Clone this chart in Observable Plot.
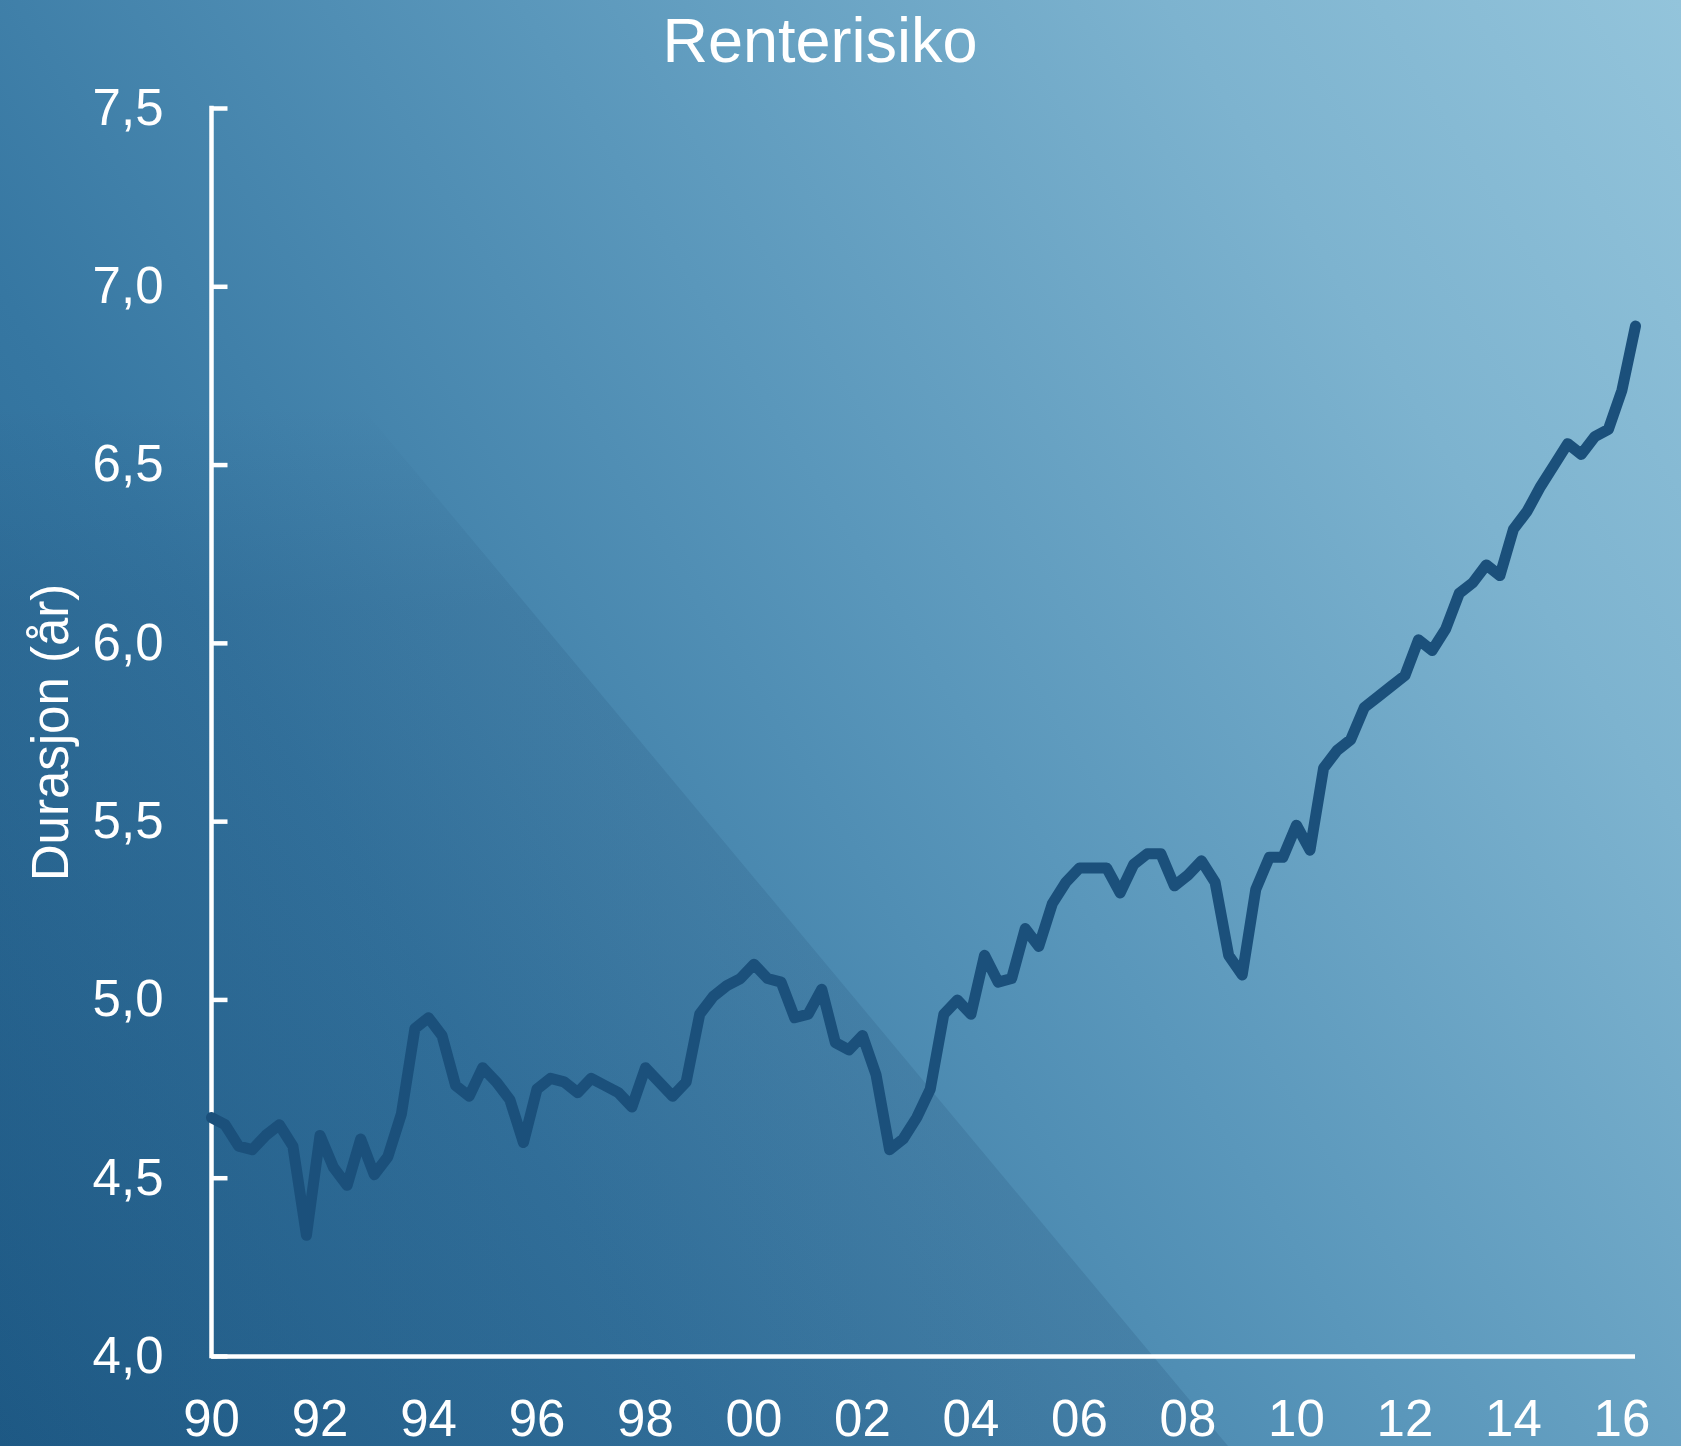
<!DOCTYPE html>
<html>
<head>
<meta charset="utf-8">
<script src="https://cdn.jsdelivr.net/npm/d3@7"></script>
<script src="https://cdn.jsdelivr.net/npm/@observablehq/plot@0.6"></script>
<style>
  html, body { margin: 0; padding: 0; }
  #page {
    position: relative; width: 1681px; height: 1446px; overflow: hidden;
    background: linear-gradient(58deg, #205f8b 0%, #3677a2 28%, #5a97bb 55%, #7db3cf 80%, #93c4db 100%);
    font-family: "Liberation Sans", Arial, sans-serif;
  }
  #shade {
    position: absolute; left: 0; top: 0; width: 1681px; height: 1446px;
    clip-path: polygon(0px 0px, 22px 0px, 1228px 1446px, 0px 1446px);
    background: linear-gradient(to bottom, rgba(15,50,90,0) 0%, rgba(15,50,90,0) 28%, rgba(15,50,90,0.11) 42%, rgba(15,50,90,0.14) 100%);
  }
  #title {
    position: absolute; top: 9px; left: 820px; transform: translateX(-50%);
    color: #fff; font-size: 63px; line-height: 63px; white-space: nowrap;
  }
  #chart { position: absolute; left: 0; top: 0; }
</style>
</head>
<body>
<div id="page">
  <div id="shade"></div>
  <div id="chart"></div>
  <div id="title">Renterisiko</div>
</div>
<script>
const titleText = "Renterisiko";
const yLabel = "Durasjon (år)";
const startYear = 1990;           // first quarter of the series
const quartersPerYear = 4;
// Duration (years), quarterly, 1990 Q1 onwards
const duration = [
  4.67, 4.65, 4.59, 4.58, 4.62, 4.65, 4.59, 4.34, 4.62, 4.53,
  4.48, 4.61, 4.51, 4.56, 4.68, 4.92, 4.95, 4.90, 4.76, 4.73,
  4.81, 4.77, 4.72, 4.60, 4.75, 4.78, 4.77, 4.74, 4.78, 4.76,
  4.74, 4.70, 4.81, 4.77, 4.73, 4.77, 4.96, 5.01, 5.04, 5.06,
  5.10, 5.06, 5.05, 4.95, 4.96, 5.03, 4.88, 4.86, 4.90, 4.79,
  4.58, 4.61, 4.67, 4.75, 4.96, 5.00, 4.96, 5.125, 5.05, 5.06,
  5.20, 5.15, 5.27, 5.33, 5.37, 5.37, 5.37, 5.30, 5.38, 5.41,
  5.41, 5.32, 5.35, 5.39, 5.33, 5.125, 5.07, 5.31, 5.40, 5.40,
  5.49, 5.42, 5.65, 5.70, 5.73, 5.82, 5.85, 5.88, 5.91, 6.01,
  5.98, 6.04, 6.14, 6.17, 6.22, 6.19, 6.32, 6.37, 6.44, 6.50,
  6.56, 6.53, 6.58, 6.60, 6.71, 6.89
];
const xTickYears = [1990, 1992, 1994, 1996, 1998, 2000, 2002, 2004, 2006, 2008, 2010, 2012, 2014, 2016];
const yTicks = [4.0, 4.5, 5.0, 5.5, 6.0, 6.5, 7.0, 7.5];
const yDomain = [4.0, 7.5];

const data = duration.map((v, i) => ({ t: startYear + i / quartersPerYear, v }));
const lastT = data[data.length - 1].t;

document.getElementById("title").textContent = titleText;

const tickShape = { draw(context, l) { context.moveTo(0, 0); context.lineTo(0, -l); } };

const chart = Plot.plot({
  width: 1681,
  height: 1446,
  marginLeft: 211,
  marginRight: 46,
  marginTop: 108,
  marginBottom: 90,
  style: { background: "transparent", overflow: "visible", fontFamily: "'Liberation Sans', Arial, sans-serif" },
  x: { domain: [startYear, lastT] },
  y: { domain: yDomain },
  marks: [
    Plot.axisX({
      ticks: xTickYears, tickSize: 0, tickPadding: 43, label: null,
      tickFormat: d => String(d % 100).padStart(2, "0"),
      fontSize: 51, fill: "#fff", color: "#fff"
    }),
    Plot.axisY({
      ticks: yTicks, tickSize: 0, tickPadding: 48, label: null,
      tickFormat: d => d.toFixed(1).replace(".", ","),
      fontSize: 51, fill: "#fff", color: "#fff"
    }),
    Plot.vector(yTicks, {
      y: d => d, frameAnchor: "left", length: 16, rotate: 90, anchor: "start",
      shape: tickShape, stroke: "#fff", strokeWidth: 4.5, strokeLinecap: "butt"
    }),
    Plot.ruleX([startYear], { y1: yDomain[0], y2: yDomain[1], stroke: "#fff", strokeWidth: 4.5, strokeLinecap: "square" }),
    Plot.ruleY([yDomain[0]], { stroke: "#fff", strokeWidth: 4.5 }),
    Plot.line(data, {
      x: "t", y: "v", stroke: "#1b507b", strokeWidth: 11,
      strokeLinejoin: "round", strokeLinecap: "round"
    }),
    Plot.text([yLabel], {
      frameAnchor: "left", text: d => d, rotate: -90, dx: -160,
      textAnchor: "middle", lineAnchor: "middle", fontSize: 51, fill: "#fff"
    })
  ]
});
document.getElementById("chart").appendChild(chart);
</script>
</body>
</html>
